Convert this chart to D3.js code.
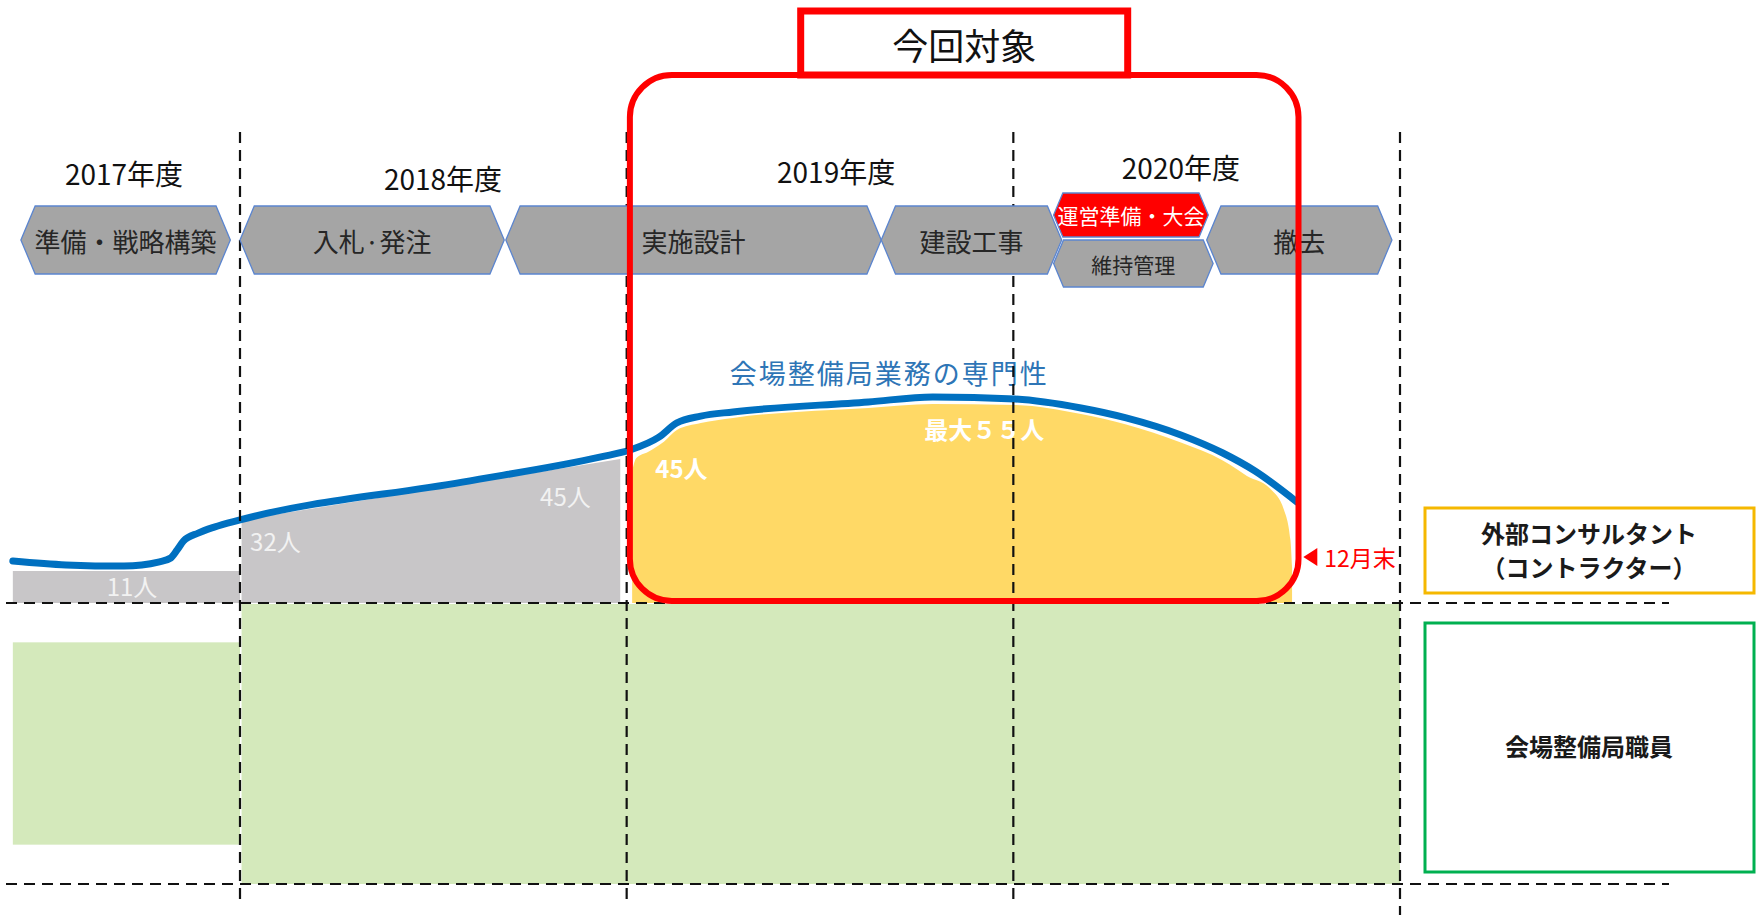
<!DOCTYPE html>
<html lang="ja">
<head>
    <meta charset="UTF-8">
    <title>会場整備局 体制と今回対象</title>
    <script src="https://cdn.jsdelivr.net/npm/d3@7"></script>
    <style>
        body{
            margin: 0;
            background: #fff;
        }
        text{
            font-family: "Noto Sans CJK JP", "Noto Sans", sans-serif;
        }
        .year{
            font-size: 28px;
            fill: #111;
        }
        .phase{
            font-size: 26px;
            fill: #262626;
        }
        .phase.small{
            font-size: 21px;
        }
        .phase.hot{
            fill: #fff;
        }
        .grayLabel{
            font-size: 24px;
            fill: #f2f2f2;
        }
        .yellowLabel{
            font-size: 24px;
            font-weight: bold;
            fill: #fff;
        }
        .legend{
            font-size: 24px;
            font-weight: bold;
            fill: #1a1a1a;
        }
    </style>
</head>
<body>
<div class="container"></div>
<script>
    ////////////////////////////////////////////////////////////////
    /*   Data  (time = months counted from April 2017)            */
    ////////////////////////////////////////////////////////////////
    const years = ["2017年度", "2018年度", "2019年度", "2020年度"];
    const yearStart = [0, 12, 24, 36];
    const yearEnd = [12, 24, 36, 48];
    const yearLabelAt = [8.4, 18.3, 30.5, 41.2];

    const phaseNames = ["準備・戦略構築", "入札·発注", "実施設計", "建設工事", "運営準備・大会", "維持管理", "撤去"];
    const phaseStart = [5.2, 12.0, 20.25, 31.9, 37.25, 37.25, 42.0];
    const phaseEnd = [11.7, 20.2, 31.9, 37.5, 42.05, 42.2, 47.75];
    const phaseRow = ["main", "main", "main", "main", "upper", "lower", "main"];
    const phaseHot = [false, false, false, false, true, false, false];

    // 会場整備局業務の専門性 (level 0-100)
    const skillMonth = [4.95, 6.6, 8.4, 9.5, 9.85, 10.05, 10.25, 10.7, 11.2, 12.0, 18.9, 23.2, 24.1, 25.0, 25.55, 26.3, 27.3, 31.5, 33.5, 36.05, 38.1, 39.5, 41.2, 42.5, 43.5, 44.8];
    const skillLevel = [14.0, 12.7, 12.3, 13.7, 15.0, 17.7, 20.7, 23.3, 25.3, 27.7, 40.3, 48.7, 51.0, 55.3, 60.0, 62.3, 63.7, 67.0, 68.7, 68.0, 65.0, 61.7, 56.0, 50.0, 44.0, 33.7];

    // consultant headcount, before the target period (grey)
    const grayMonthA = [4.95, 12.0];
    const grayLevelA = [10.7, 10.7];
    const grayMonthB = [12.05, 23.8];
    const grayLevelB = [27.7, 48.0];

    // consultant headcount, target period (yellow)
    const yellowMonth = [24.17, 24.3, 24.66, 25.1, 25.56, 26.3, 27.3, 31.5, 33.5, 36.05, 38.1, 39.5, 41.2, 42.5, 42.95, 43.25, 43.95, 44.4, 44.6, 44.65];
    const yellowLevel = [44.0, 48.3, 50.3, 53.3, 57.7, 60.0, 61.7, 65.0, 66.3, 66.0, 63.0, 59.5, 53.5, 47.5, 44.5, 42.3, 38.3, 31.0, 21.0, 12.0];

    const peopleText = ["11人", "32人", "45人", "45人", "最大５５人"];
    const peopleMonth = [8.65, 13.1, 22.1, 25.7, 35.1];
    const peopleLevel = [5.7, 21.0, 35.7, 45.3, 58.3];
    const peopleOnYellow = [false, false, false, true, true];

    // staff band (0-100 of the lower panel)
    const staffStart = [4.95, 12.05];
    const staffEnd = [12.0, 48.0];
    const staffTop = [14, 0];
    const staffBottom = [86, 100];

    const targetStart = 24.1;
    const targetEnd = 44.85;
    const deadlineMonth = 45;     // 12月末
    const deadlineLevel = 15.3;

    ////////////////////////////////////////////////////////////////
    /*          Constants and containers                          */
    ////////////////////////////////////////////////////////////////
    const width = 1760, height = 920;

    const svg = d3.select(".container")
        .append("svg")
        .attr("width", width)
        .attr("height", height)
        .attr("viewBox", `0 0 ${width} ${height}`);

    const x = d3.scaleLinear().domain([12, 48]).range([240, 1400]);
    const y = d3.scaleLinear().domain([0, 100]).range([603, 303]);
    const staffY = d3.scaleLinear().domain([0, 100]).range([603, 884]);

    const lineX0 = 6, lineX1 = 1669;
    const rowBand = {main: [206, 274], upper: [193, 237], lower: [240, 287]};
    const yearLabelY = [173, 178, 171, 167];

    ////////////////////////////////////////////////////////////////
    /*          Staff panel (green)                               */
    ////////////////////////////////////////////////////////////////
    svg.append("g").selectAll("rect")
        .data(staffStart)
        .join("rect")
        .attr("x", (d, i) => x(d))
        .attr("y", (d, i) => staffY(staffTop[i]) + (staffTop[i] === 0 ? 1 : 0))
        .attr("width", (d, i) => x(staffEnd[i]) - x(d))
        .attr("height", (d, i) => staffY(staffBottom[i]) - staffY(staffTop[i]) - (staffTop[i] === 0 ? 1 : 0))
        .attr("fill", "#d4e9bb");

    ////////////////////////////////////////////////////////////////
    /*          Consultant areas                                  */
    ////////////////////////////////////////////////////////////////
    const area = d3.area()
        .x(d => x(d[0]))
        .y0(y(0))
        .y1(d => y(d[1]));

    const grayGroup = svg.append("g");
    [[grayMonthA, grayLevelA], [grayMonthB, grayLevelB]].forEach(([ms, ls]) => {
        grayGroup.append("path")
            .attr("d", area(ms.map((m, i) => [m, ls[i]])))
            .attr("fill", "#c8c6c8");
    });

    svg.append("path")
        .attr("d", area.curve(d3.curveMonotoneX)(yellowMonth.map((m, i) => [m, yellowLevel[i]])))
        .attr("fill", "#ffd966");

    // expertise line
    const line = d3.line()
        .x(d => x(d[0]))
        .y(d => y(d[1]))
        .curve(d3.curveMonotoneX);

    svg.append("path")
        .attr("d", line(skillMonth.map((m, i) => [m, skillLevel[i]])))
        .attr("fill", "none")
        .attr("stroke", "#0070c0")
        .attr("stroke-width", 7)
        .attr("stroke-linecap", "round");

    svg.append("text")
        .attr("x", x(32.15))
        .attr("y", y(76.7))
        .attr("text-anchor", "middle")
        .attr("dominant-baseline", "central")
        .attr("font-size", "27px")
        .attr("letter-spacing", "2px")
        .attr("fill", "#2e75b6")
        .text("会場整備局業務の専門性");

    svg.append("g").selectAll("text")
        .data(peopleText)
        .join("text")
        .attr("class", (d, i) => peopleOnYellow[i] ? "yellowLabel" : "grayLabel")
        .attr("x", (d, i) => x(peopleMonth[i]))
        .attr("y", (d, i) => y(peopleLevel[i]))
        .attr("text-anchor", "middle")
        .attr("dominant-baseline", "central")
        .text(d => d);

    ////////////////////////////////////////////////////////////////
    /*          Dashed guides                                     */
    ////////////////////////////////////////////////////////////////
    const guides = svg.append("g")
        .attr("stroke", "#111")
        .attr("stroke-width", 2.2)
        .attr("stroke-dasharray", "11,7");

    guides.selectAll(".v")
        .data(yearEnd.slice(0, 4))
        .join("line")
        .attr("x1", d => x(d)).attr("x2", d => x(d))
        .attr("y1", 132)
        .attr("y2", (d, i) => i === 3 ? 915 : 905);

    guides.selectAll(".h")
        .data([y(0), staffY(100)])
        .join("line")
        .attr("x1", lineX0).attr("x2", lineX1)
        .attr("y1", d => d).attr("y2", d => d);

    ////////////////////////////////////////////////////////////////
    /*          Year labels and phases                            */
    ////////////////////////////////////////////////////////////////
    svg.append("g").selectAll("text")
        .data(years)
        .join("text")
        .attr("class", "year")
        .attr("x", (d, i) => x(yearLabelAt[i]))
        .attr("y", (d, i) => yearLabelY[i])
        .attr("text-anchor", "middle")
        .attr("dominant-baseline", "central")
        .text(d => d);

    function hexagon(x0, x1, y0, y1) {
        const inset = (y1 - y0) * 0.21, ym = (y0 + y1) / 2;
        return `M${x0},${ym}L${x0 + inset},${y0}L${x1 - inset},${y0}L${x1},${ym}L${x1 - inset},${y1}L${x0 + inset},${y1}Z`;
    }

    const phases = svg.append("g").selectAll("g")
        .data(phaseNames)
        .join("g");

    phases.append("path")
        .attr("d", (d, i) => hexagon(x(phaseStart[i]), x(phaseEnd[i]), rowBand[phaseRow[i]][0], rowBand[phaseRow[i]][1]))
        .attr("fill", (d, i) => phaseHot[i] ? "#ff0000" : "#a5a5a5")
        .attr("stroke", "#5b85cf")
        .attr("stroke-width", 1.3);

    phases.append("text")
        .attr("class", (d, i) => "phase" + (phaseRow[i] !== "main" ? " small" : "") + (phaseHot[i] ? " hot" : ""))
        .attr("x", (d, i) => (x(phaseStart[i]) + x(phaseEnd[i])) / 2)
        .attr("y", (d, i) => (rowBand[phaseRow[i]][0] + rowBand[phaseRow[i]][1]) / 2)
        .attr("text-anchor", "middle")
        .attr("dominant-baseline", "central")
        .text(d => d);

    ////////////////////////////////////////////////////////////////
    /*          Target period frame (今回対象)                     */
    ////////////////////////////////////////////////////////////////
    const frameTop = 75, frameBottom = y(0) - 2;
    const tx0 = x(targetStart), tx1 = x(targetEnd);
    const target = svg.append("g");

    target.append("rect")
        .attr("x", tx0).attr("y", frameTop)
        .attr("width", tx1 - tx0)
        .attr("height", frameBottom - frameTop)
        .attr("rx", 42).attr("ry", 42)
        .attr("fill", "none")
        .attr("stroke", "#ff0000")
        .attr("stroke-width", 6);

    const boxW = 327, boxX = (tx0 + tx1) / 2 - boxW / 2;
    target.append("rect")
        .attr("x", boxX).attr("y", 11)
        .attr("width", boxW).attr("height", frameTop - 11)
        .attr("fill", "#fff")
        .attr("stroke", "#ff0000")
        .attr("stroke-width", 7);

    target.append("text")
        .attr("x", (tx0 + tx1) / 2)
        .attr("y", 44)
        .attr("text-anchor", "middle")
        .attr("dominant-baseline", "central")
        .attr("font-size", "36px")
        .attr("fill", "#111")
        .text("今回対象");

    // 12月末 marker
    const dx = x(deadlineMonth), dy = y(deadlineLevel);
    target.append("path")
        .attr("d", `M${dx},${dy}L${dx + 14},${dy - 9}L${dx + 14},${dy + 9}Z`)
        .attr("fill", "#ff0000");
    target.append("text")
        .attr("x", dx + 21)
        .attr("y", dy)
        .attr("dominant-baseline", "central")
        .attr("font-size", "23px")
        .attr("fill", "#ff0000")
        .text("12月末");

    ////////////////////////////////////////////////////////////////
    /*          Legend boxes                                      */
    ////////////////////////////////////////////////////////////////
    const legend = svg.append("g");
    legend.append("rect")
        .attr("x", 1425).attr("y", 508).attr("width", 329).attr("height", 85)
        .attr("fill", "#fff").attr("stroke", "#f5b800").attr("stroke-width", 3);
    legend.append("text").attr("class", "legend")
        .attr("x", 1589).attr("y", 532)
        .attr("text-anchor", "middle").attr("dominant-baseline", "central")
        .text("外部コンサルタント");
    legend.append("text").attr("class", "legend")
        .attr("x", 1589).attr("y", 566)
        .attr("text-anchor", "middle").attr("dominant-baseline", "central")
        .text("（コントラクター）");

    legend.append("rect")
        .attr("x", 1425).attr("y", 623).attr("width", 329).attr("height", 249)
        .attr("fill", "#fff").attr("stroke", "#00b050").attr("stroke-width", 3);
    legend.append("text").attr("class", "legend")
        .attr("x", 1589).attr("y", 745)
        .attr("font-size", "26px")
        .attr("text-anchor", "middle").attr("dominant-baseline", "central")
        .text("会場整備局職員");
</script>
</body>
</html>
